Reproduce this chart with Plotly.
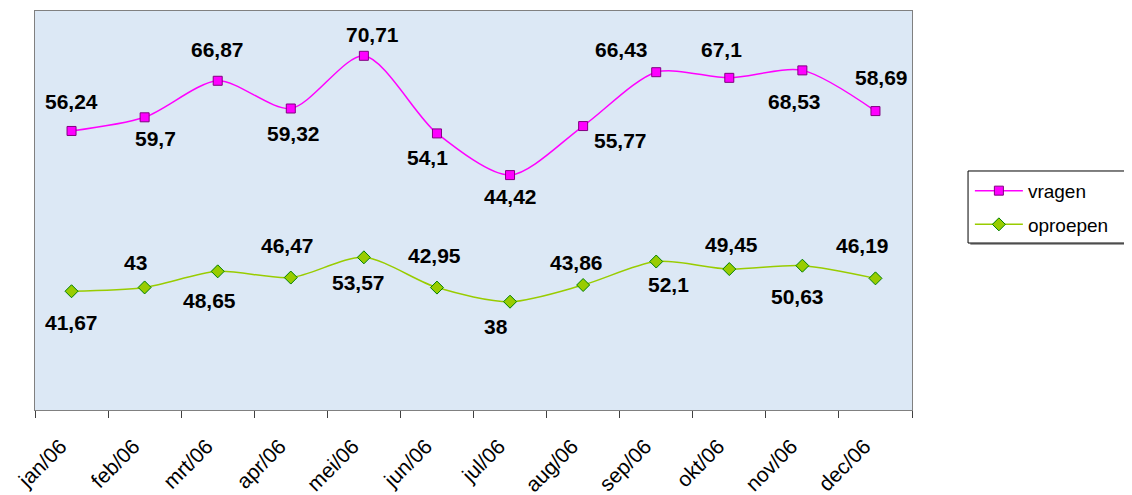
import plotly.graph_objects as go
import numpy as np

months = ["jan/06", "feb/06", "mrt/06", "apr/06", "mei/06", "jun/06",
          "jul/06", "aug/06", "sep/06", "okt/06", "nov/06", "dec/06"]
vragen = [56.24, 59.7, 66.87, 59.32, 70.71, 54.1, 44.42, 55.77, 66.43, 67.1, 68.53, 58.69]
oproepen = [41.67, 43, 48.65, 46.47, 53.57, 42.95, 38, 43.86, 52.1, 49.45, 50.63, 46.19]

# label offsets in pixels (dx, dy: positive dy = down), styling only
vragen_dx = [0, 11, 0, 3, 9, -9, 0, 37, -35, -8, -8, 6]
vragen_dy = [-29, 21, -31, 25, -21, 24, 21, 14, -23, -28, 31, -34]
oproepen_dx = [0, -9, -8, -3, -5, -2, -14, -7, 12, 2, -5, -13]
oproepen_dy = [31, -25, 29, -32, 25, -32, 25, -23, 23, -25, 31, -33]

# stacked line chart: vragen is stacked on top of oproepen
stack_top = (np.array(oproepen) + np.array(vragen)).tolist()


def fmt(v):
    return f"{v:g}".replace(".", ",")


FONT = "Arial, Liberation Sans"

fig = go.Figure()
fig.add_trace(go.Scatter(
    x=months, y=stack_top, name="vragen", mode="lines+markers",
    line=dict(color="#ff00ff", width=1.5, shape="spline", smoothing=0.8),
    marker=dict(symbol="square", size=9, color="#ff00ff",
                line=dict(color="#800080", width=1)),
    legendgroup="a",
))
fig.add_trace(go.Scatter(
    x=months, y=oproepen, name="oproepen", mode="lines+markers",
    line=dict(color="#99cc00", width=1.5, shape="spline", smoothing=0.8),
    marker=dict(symbol="diamond", size=10, color="#99cc00",
                line=dict(color="#008000", width=1)),
    legendgroup="b",
))

# month labels sit slightly left of the category centre (as in the original)
label_pos = (np.arange(len(months)) - 0.15).tolist()

# invisible helper trace so that the label axis (x2) is drawn
fig.add_trace(go.Scatter(
    x=label_pos, y=oproepen, xaxis="x2", mode="markers",
    marker=dict(opacity=0), showlegend=False, hoverinfo="skip",
))

annotations = []
for i, m in enumerate(months):
    annotations.append(dict(x=m, y=stack_top[i], text="<b>" + fmt(vragen[i]) + "</b>",
                            showarrow=False, xshift=vragen_dx[i], yshift=-vragen_dy[i],
                            font=dict(family=FONT, size=21, color="black"),
                            xref="x", yref="y"))
    annotations.append(dict(x=m, y=oproepen[i], text="<b>" + fmt(oproepen[i]) + "</b>",
                            showarrow=False, xshift=oproepen_dx[i], yshift=-oproepen_dy[i],
                            font=dict(family=FONT, size=21, color="black"),
                            xref="x", yref="y"))

# legend frame (wider than plotly's own legend box) with a light shadow
shapes = [
    dict(type="rect", xref="paper", yref="paper", x0=1.0665, x1=1.2515, y0=0.4135, y1=0.5940,
         line=dict(width=0), fillcolor="#a0a0a0", layer="below"),
    dict(type="rect", xref="paper", yref="paper", x0=1.0639, x1=1.2486, y0=0.4185, y1=0.5990,
         line=dict(color="black", width=1), fillcolor="white", layer="below"),
]

fig.update_layout(
    width=1124, height=487,
    margin=dict(l=27, r=220, t=3, b=85, autoexpand=False),
    paper_bgcolor="white",
    plot_bgcolor="#dce8f5",
    font=dict(family=FONT, color="black"),
    showlegend=True,
    legend=dict(x=1.066, y=0.597, xanchor="left", yanchor="top",
                bgcolor="rgba(0,0,0,0)", borderwidth=0,
                font=dict(size=19, family=FONT),
                tracegroupgap=6, traceorder="grouped", itemwidth=48),
    annotations=annotations,
    shapes=shapes,
    xaxis=dict(type="category", range=[-0.5, 11.5], automargin=False,
               showgrid=False, zeroline=False, showticklabels=False,
               showline=True, linecolor="#808080", linewidth=1, mirror=True,
               ticks="outside", tickson="boundaries", ticklen=7, tickcolor="#404040"),
    xaxis2=dict(overlaying="x", anchor="y", side="bottom", range=[-0.5, 11.5],
                automargin=False, showgrid=False, zeroline=False, showline=False,
                ticks="", tickmode="array", tickvals=label_pos, ticktext=months,
                tickangle=-45, tickfont=dict(size=21, family=FONT),
                ticklabelstandoff=19),
    yaxis=dict(range=[0, 140], automargin=False, showgrid=False, zeroline=False,
               showticklabels=False, ticks="", showline=True, linecolor="#808080",
               linewidth=1, mirror=True),
)

fig.write_html("out.html")
